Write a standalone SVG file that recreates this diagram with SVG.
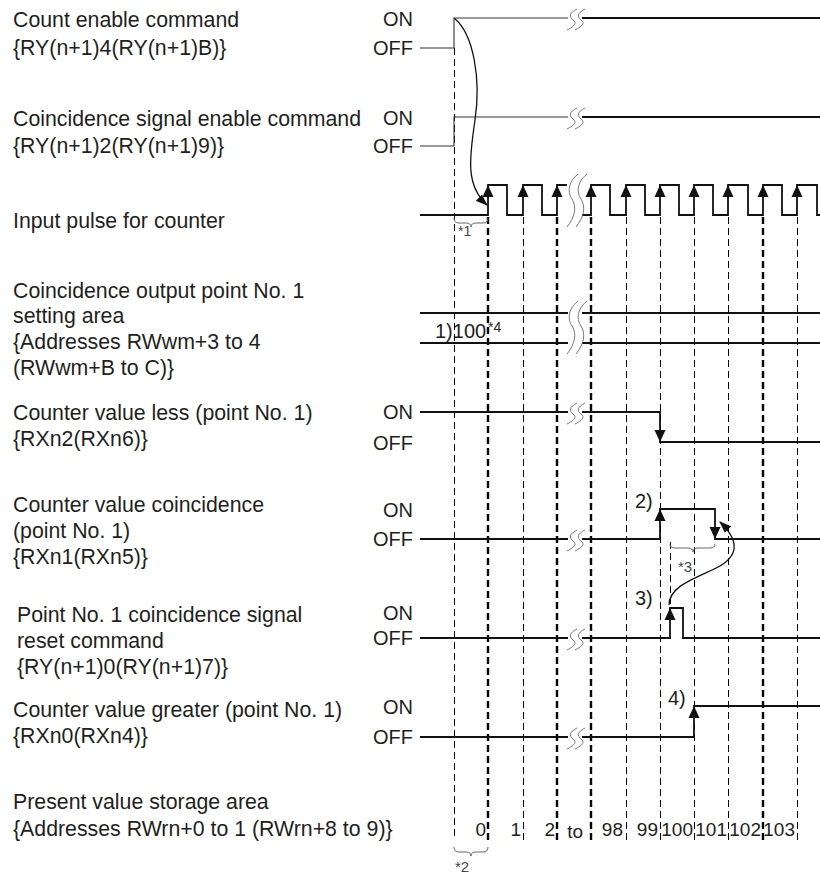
<svg xmlns="http://www.w3.org/2000/svg" width="820" height="874" viewBox="0 0 820 874">
<style>
text{font-family:"Liberation Sans",Arial,sans-serif;fill:#231f20}
.lb{font-size:21.3px}
.st{font-size:20px;text-anchor:end}
.nm{font-size:19px;text-anchor:end}
.sm{font-size:14px;fill:#444}
.sig{fill:none;stroke:#111;stroke-width:1.8}
.thin{fill:none;stroke:#333;stroke-width:1.1}
.brk{fill:none;stroke:#666;stroke-width:0.9}
.dl{fill:none;stroke:#000;stroke-width:1;stroke-dasharray:7 4}
.dk{fill:none;stroke:#000;stroke-width:2.4;stroke-dasharray:7 4}
.brace{fill:none;stroke:#666;stroke-width:1}
.cv{fill:none;stroke:#111;stroke-width:1.3}
.ar{fill:#111}
</style>
<defs>
<path id="up" d="M0,0 L-5.5,12 L5.5,12 Z"/>
<path id="dn" d="M0,0 L-5.5,-12 L5.5,-12 Z"/>
<path id="bs" d="M10,-10 C2,-6 2,-2 6,1 C10,4 8,7 0,11"/>
<path id="bl" d="M11,-27 C0,-18 1,-8 5,-2 C10,6 8,16 0,26"/>
<marker id="ah" viewBox="0 0 12 9" refX="11" refY="4.5" markerWidth="12" markerHeight="9" markerUnits="userSpaceOnUse" orient="auto">
<path d="M0,0 L12,4.5 L0,9 Z" fill="#111"/>
</marker>
</defs>

<g id="connectors">
<g id="dashed-lines">
<line class="dl" x1="454.5" y1="48" x2="454.5" y2="840"/>
<line class="dk" x1="488" y1="217" x2="488" y2="840"/>
<line class="dl" x1="523.5" y1="217" x2="523.5" y2="840"/>
<line class="dk" x1="557" y1="217" x2="557" y2="840"/>
<line class="dk" x1="591" y1="217" x2="591" y2="840"/>
<line class="dl" x1="626.5" y1="217" x2="626.5" y2="840"/>
<line class="dl" x1="660.5" y1="217" x2="660.5" y2="840"/>
<line class="dl" x1="694.5" y1="217" x2="694.5" y2="840"/>
<line class="dl" x1="728.5" y1="217" x2="728.5" y2="840"/>
<line class="dk" x1="763" y1="217" x2="763" y2="840"/>
<line class="dl" x1="797.5" y1="217" x2="797.5" y2="840"/>
<line class="dl" x1="670.5" y1="542" x2="670.5" y2="607"/>
</g>
<path class="cv" d="M454,18 C474,34 481,80 475,120 C469,160 466,186 487,205" marker-end="url(#ah)"/>
<path class="cv" d="M669,605 C669,588 690,580 712,570 C735,560 744,545 720,522" marker-end="url(#ah)"/>
</g>

<g id="sig-count-enable">
<text class="lb" x="13" y="27">Count enable command</text>
<text class="lb" x="13" y="55">{RY(n+1)4(RY(n+1)B)}</text>
<text class="st" x="413" y="26">ON</text>
<text class="st" x="413" y="55">OFF</text>
<path class="thin" d="M420,48 H454 V18 H568"/>
<path class="sig" d="M582,18 H820"/>
<use href="#bs" x="567" y="19" class="brk"/>
<use href="#bs" x="575" y="19" class="brk"/>
</g>

<g id="sig-coincidence-enable">
<text class="lb" x="13" y="126">Coincidence signal enable command</text>
<text class="lb" x="13" y="153">{RY(n+1)2(RY(n+1)9)}</text>
<text class="st" x="413" y="125">ON</text>
<text class="st" x="413" y="153">OFF</text>
<path class="thin" d="M420,146 H454 V117 H568"/>
<path class="sig" d="M582,117 H820"/>
<use href="#bs" x="567" y="118" class="brk"/>
<use href="#bs" x="575" y="118" class="brk"/>
</g>

<g id="sig-input-pulse">
<text class="lb" x="13" y="228">Input pulse for counter</text>
<path class="sig" d="M420,215 H488 V185 H507 V215 H523 V185 H542 V215 H557 V185 H567"/>
<path class="sig" d="M582,215 H591 V185 H610 V215 H626 V185 H645 V215 H660 V185 H679 V215 H694 V185 H713 V215 H728 V185 H748 V215 H763 V185 H782 V215 H797 V185 H817 V215 H820"/>
<use href="#bl" x="567" y="201" class="brk"/>
<use href="#bl" x="576" y="201" class="brk"/>
<use href="#up" x="488" y="185" class="ar"/>
<use href="#up" x="523" y="185" class="ar"/>
<use href="#up" x="557" y="185" class="ar"/>
<use href="#up" x="591" y="185" class="ar"/>
<use href="#up" x="626" y="185" class="ar"/>
<use href="#up" x="660" y="185" class="ar"/>
<use href="#up" x="694" y="185" class="ar"/>
<use href="#up" x="728" y="185" class="ar"/>
<use href="#up" x="763" y="185" class="ar"/>
<use href="#up" x="797" y="185" class="ar"/>
<path class="brace" d="M454,218 q0,5 5,5 h7 q5,0 5,4 q0,-4 5,-4 h7 q5,0 5,-5"/>
<text class="sm" x="458" y="236">*1</text>
</g>

<g id="sig-setting-area">
<text class="lb" x="13" y="298">Coincidence output point No. 1</text>
<text class="lb" x="13" y="323">setting area</text>
<text class="lb" x="13" y="349">{Addresses RWwm+3 to 4</text>
<text class="lb" x="13" y="375">(RWwm+B to C)}</text>
<path class="sig" d="M420,313 H568 M582,313 H820 M420,343 H568 M582,343 H820"/>
<use href="#bl" x="567" y="328" class="brk"/>
<use href="#bl" x="576" y="328" class="brk"/>
<text x="435" y="338" style="font-size:20px">1)100</text>
<text x="488" y="332" style="font-size:14px">*4</text>
</g>

<g id="sig-counter-less">
<text class="lb" x="13" y="420">Counter value less (point No. 1)</text>
<text class="lb" x="13" y="446">{RXn2(RXn6)}</text>
<text class="st" x="413" y="419">ON</text>
<text class="st" x="413" y="450">OFF</text>
<path class="sig" d="M420,412 H568 M582,412 H660 V442 H820"/>
<use href="#bs" x="567" y="413" class="brk"/>
<use href="#bs" x="575" y="413" class="brk"/>
<use href="#dn" x="660" y="442" class="ar"/>
</g>

<g id="sig-counter-coincidence">
<text class="lb" x="13" y="512">Counter value coincidence</text>
<text class="lb" x="13" y="538">(point No. 1)</text>
<text class="lb" x="13" y="564">{RXn1(RXn5)}</text>
<text class="st" x="413" y="517">ON</text>
<text class="st" x="413" y="546">OFF</text>
<path class="sig" d="M420,539 H568 M582,539 H660 V509 H715 V539 H820"/>
<use href="#bs" x="567" y="540" class="brk"/>
<use href="#bs" x="575" y="540" class="brk"/>
<use href="#up" x="660" y="509" class="ar"/>
<use href="#dn" x="715" y="539" class="ar"/>
<text x="635" y="508" style="font-size:20px">2)</text>
<path class="brace" d="M670,544 q0,4 5,4 h13 q5,0 5,4 q0,-4 5,-4 h12 q5,0 5,-4"/>
<text class="sm" x="678" y="572" style="font-size:15px">*3</text>
</g>

<g id="sig-reset-command">
<text class="lb" x="17" y="622">Point No. 1 coincidence signal</text>
<text class="lb" x="17" y="648">reset command</text>
<text class="lb" x="17" y="674">{RY(n+1)0(RY(n+1)7)}</text>
<text class="st" x="413" y="620">ON</text>
<text class="st" x="413" y="645">OFF</text>
<path class="sig" d="M420,638 H568 M582,638 H670 V608 H683 V638 H820"/>
<use href="#bs" x="567" y="639" class="brk"/>
<use href="#bs" x="575" y="639" class="brk"/>
<use href="#up" x="670" y="608" class="ar"/>
<text x="635" y="605" style="font-size:20px">3)</text>
</g>

<g id="sig-counter-greater">
<text class="lb" x="13" y="717">Counter value greater (point No. 1)</text>
<text class="lb" x="13" y="743">{RXn0(RXn4)}</text>
<text class="st" x="413" y="714">ON</text>
<text class="st" x="413" y="744">OFF</text>
<path class="sig" d="M420,737 H568 M582,737 H694 V706 H820"/>
<use href="#bs" x="567" y="738" class="brk"/>
<use href="#bs" x="575" y="738" class="brk"/>
<use href="#up" x="694" y="706" class="ar"/>
<text x="668" y="705" style="font-size:20px">4)</text>
</g>

<g id="sig-present-value">
<text class="lb" x="13" y="809">Present value storage area</text>
<text class="lb" x="13" y="836">{Addresses RWrn+0 to 1 (RWrn+8 to 9)}</text>
<text class="nm" x="486" y="836">0</text>
<text class="nm" x="521" y="836">1</text>
<text class="nm" x="555" y="836">2</text>
<text class="nm" x="583" y="838">to</text>
<text class="nm" x="623" y="836">98</text>
<text class="nm" x="658" y="836">99</text>
<text class="nm" x="693" y="836">100</text>
<text class="nm" x="727" y="836">101</text>
<text class="nm" x="761" y="836">102</text>
<text class="nm" x="795" y="836">103</text>
<path class="brace" d="M454,847 q0,5 5,5 h7 q5,0 5,4 q0,-4 5,-4 h7 q5,0 5,-5"/>
<text class="sm" x="455" y="872" style="font-size:15px">*2</text>
</g>
</svg>
